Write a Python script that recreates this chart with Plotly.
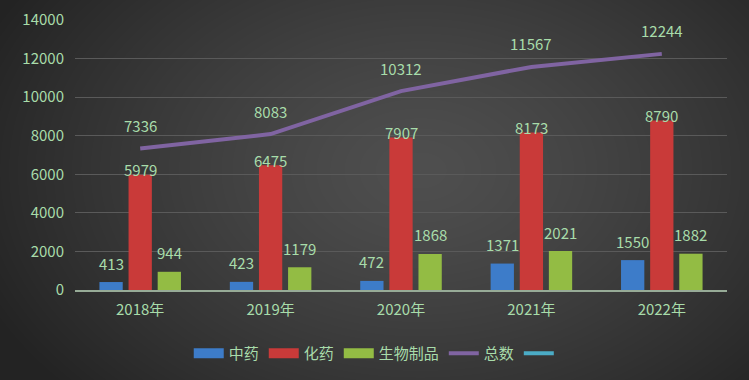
import base64, struct, zlib
import numpy as np
import plotly.graph_objects as go

years = ["2018年", "2019年", "2020年", "2021年", "2022年"]
tcm = [413, 423, 472, 1371, 1550]          # 中药
chem = [5979, 6475, 7907, 8173, 8790]      # 化药
bio = [944, 1179, 1868, 2021, 1882]        # 生物制品
total = [7336, 8083, 10312, 11567, 12244]  # 总数
y_ticks = [0, 2000, 4000, 6000, 8000, 10000, 12000, 14000]
y_tick_labels = [str(t) for t in y_ticks]

W, H = 749, 380
ML, MR, MT, MB = 75, 22, 20, 90
PW, PH = W - ML - MR, H - MT - MB

TXT = "#a8dcaa"
FONT = "Noto Sans CJK SC"

# radial gradient background PNG
yy, xx = np.mgrid[0:H, 0:W]
d = np.sqrt(((xx - 420) / 480.0) ** 2 + ((yy - 170) / 330.0) ** 2)
v = (79 - 44 * np.clip(d, 0, 1) ** 1.3).astype(np.uint8)
raw = b"".join(b"\x00" + bytes(np.repeat(row, 3)) for row in v)
def chunk(t, data):
    c = struct.pack(">I", len(data)) + t + data
    return c + struct.pack(">I", zlib.crc32(t + data) & 0xffffffff)
png = (b"\x89PNG\r\n\x1a\n" + chunk(b"IHDR", struct.pack(">IIBBBBB", W, H, 8, 2, 0, 0, 0))
       + chunk(b"IDAT", zlib.compress(raw, 9)) + chunk(b"IEND", b""))
bg = "data:image/png;base64," + base64.b64encode(png).decode()

fig = go.Figure()
colors = {"中药": "#3d7cc9", "化药": "#c93a39", "生物制品": "#93bc44"}
for name, vals in [("中药", tcm), ("化药", chem), ("生物制品", bio)]:
    fig.add_trace(go.Bar(x=years, y=vals, name=name, showlegend=False,
                         marker=dict(color=colors[name], line=dict(width=0))))
fig.add_trace(go.Scatter(x=years, y=total, name="总数", mode="lines", showlegend=False,
                         line=dict(color="#8064a2", width=4)))
# legend entries
for name, col, w in [("中药", colors["中药"], 10), ("化药", colors["化药"], 10),
                     ("生物制品", colors["生物制品"], 10), ("总数", "#8064a2", 4), (" ", "#4bacc6", 4)]:
    fig.add_trace(go.Scatter(x=[None], y=[None], name=name, mode="lines",
                             line=dict(color=col, width=w)))

slot = PW / len(years) * (1 - 0.33) / 3
ann = []
for vals, xs, ys in [(tcm, -slot, 19), (chem, 0, 5), (bio, slot, 19), (total, 0, 23)]:
    for i, val in enumerate(vals):
        ann.append(dict(x=years[i], y=val, text=str(val), showarrow=False, xshift=xs, yshift=ys,
                        yanchor="middle", font=dict(color=TXT, size=15, family=FONT)))

fig.update_layout(
    width=W, height=H,
    margin=dict(l=ML, r=MR, t=MT, b=MB, autoexpand=False),
    paper_bgcolor="#333333", plot_bgcolor="rgba(0,0,0,0)",
    barmode="group", bargap=0.33, bargroupgap=0.2,
    font=dict(family=FONT, color=TXT, size=14),
    showlegend=True,
    legend=dict(orientation="h", x=0.505, xanchor="center", xref="container",
                y=0.07, yanchor="middle", yref="container",
                font=dict(size=15, color=TXT), bgcolor="rgba(0,0,0,0)",
                itemwidth=30, tracegroupgap=0),
    annotations=ann,
    images=[dict(source=bg, xref="paper", yref="paper", x=-ML / PW, y=1 + MT / PH,
                 sizex=W / PW, sizey=H / PH, xanchor="left", yanchor="top",
                 sizing="stretch", layer="below")],
)
fig.update_xaxes(showgrid=False, showline=True, linecolor="#97ab97", linewidth=2,
                 tickfont=dict(size=15, color=TXT), ticks="", automargin=False,
                 ticklabelstandoff=5)
fig.update_yaxes(range=[0, 14000], tickvals=y_ticks, ticktext=y_tick_labels, showgrid=True,
                 gridcolor="#5a5a5a", gridwidth=1, zeroline=False, showline=False, ticks="",
                 tickfont=dict(size=15, color=TXT), ticklabelstandoff=10, automargin=False)

fig.write_html("out.html", config={"displayModeBar": False},
               post_script="document.body.style.margin='0';document.body.style.background='#333';")
